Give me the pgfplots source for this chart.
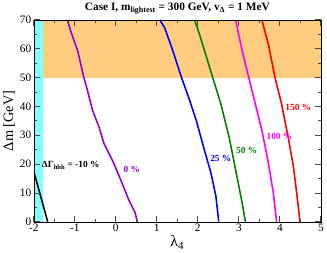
\documentclass[border=0pt]{standalone}
\usepackage{pgfplots}
\pgfplotsset{compat=1.18}
\usepackage{fontspec}
\setmainfont{Liberation Serif}
\definecolor{myorange}{HTML}{FFCC80}
\definecolor{mycyan}{HTML}{80FFFF}
\definecolor{mypurple}{HTML}{9400D3}
\definecolor{mygreen}{HTML}{008000}
\definecolor{mymagenta}{HTML}{FF00FF}
\definecolor{myblue}{HTML}{0000FF}
\definecolor{myred}{HTML}{FF0000}
\begin{document}
\begin{tikzpicture}
\begin{axis}[
  scale only axis,
  width=290bp, height=204bp,
  xmin=-2, xmax=5, ymin=0, ymax=70,
  xtick={-2,-1,0,1,2,3,4,5},
  ytick={0,10,20,30,40,50,60,70},
  minor xtick={-1.5,-0.5,0.5,1.5,2.5,3.5,4.5},
  minor ytick={5,15,25,35,45,55,65},
  tick align=inside,
  major tick length=6bp, minor tick length=3bp,
  tick style={black!70, line width=0.8pt},
  tick label style={font=\fontsize{11.5}{13}\selectfont},
  xticklabel style={yshift=1bp},
  yticklabel style={xshift=1bp},
  /pgf/number format/assume math mode=true,
  xlabel={\fontsize{16}{17}\selectfont λ\textsubscript{4}},
  ylabel={\fontsize{14.5}{15}\selectfont Δm [GeV]},
  title={\fontsize{11.5}{13}\selectfont\bfseries Case I, m\textsubscript{lightest} = 300 GeV, v\textsubscript{Δ} = 1 MeV},
  title style={yshift=-4bp},
  xlabel style={yshift=3bp},
  ylabel style={yshift=-2bp},
  axis on top,
  clip=true,
]
\fill[mycyan] (axis cs:-2,0) rectangle (axis cs:-1.77,70);
\fill[myorange] (axis cs:-1.77,50) rectangle (axis cs:5,70);

\addplot[black, line width=1.6pt] coordinates {(-2,17.5) (-1.66,0)};
\addplot[mypurple, line width=1.6pt] coordinates {
(-1.18,70) (-1.10,66.1) (-0.93,59.3) (-0.78,50.1) (-0.69,45.5) (-0.57,38.7) (-0.41,32.9) (-0.29,27.2) (-0.053,20.4) (0.15,13.5) (0.31,7.8) (0.47,3.2) (0.525,0)};
\addplot[myblue, line width=1.6pt] coordinates {
(1.07,70) (1.19,67.3) (1.39,59.3) (1.60,50.1) (1.80,42.1) (1.96,35.2) (2.16,24.9) (2.32,16.9) (2.44,8.9) (2.51,0)};
\addplot[mygreen, line width=1.6pt] coordinates {
(1.92,70) (2.04,65) (2.36,50.1) (2.56,40.9) (2.76,29.5) (2.92,18.1) (3.08,6.6) (3.16,0)};
\addplot[mymagenta, line width=1.6pt] coordinates {
(2.92,70) (3.08,59.3) (3.24,50.1) (3.40,40.9) (3.56,31.8) (3.72,20.4) (3.84,10.1) (3.92,0)};
\addplot[myred, line width=1.6pt] coordinates {
(3.56,70) (3.72,61.5) (3.88,50.1) (4.04,40.9) (4.20,29.5) (4.33,19.2) (4.41,10.1) (4.49,0)};

\node[font=\fontsize{9.5}{10}\selectfont\bfseries, black] at (axis cs:-1.10,19.6) {ΔΓ\textsubscript{hhh} = -10 \%};
\node[font=\fontsize{9.5}{10}\selectfont\bfseries, mypurple] at (axis cs:0.39,18.1) {0 \%};
\node[font=\fontsize{9.5}{10}\selectfont\bfseries, myblue] at (axis cs:2.56,22.1) {25 \%};
\node[font=\fontsize{9.5}{10}\selectfont\bfseries, mygreen] at (axis cs:3.19,24.7) {50 \%};
\node[font=\fontsize{9.5}{10}\selectfont\bfseries, mymagenta] at (axis cs:3.99,29.5) {100 \%};
\node[font=\fontsize{9.5}{10}\selectfont\bfseries, myred] at (axis cs:4.45,39.5) {150 \%};
\end{axis}
\end{tikzpicture}
\end{document}
